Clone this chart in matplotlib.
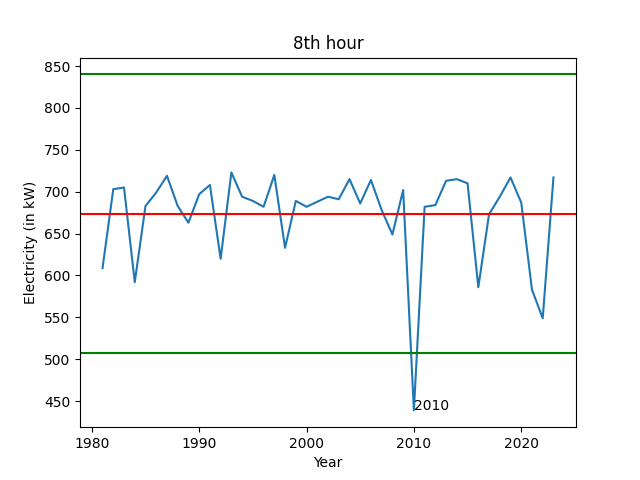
import matplotlib
matplotlib.use("Agg")
import matplotlib.pyplot as plt

years = list(range(1981, 2024))
values = [609, 703, 705, 592, 683, 699, 719, 683, 663, 697, 708, 620, 723, 694,
          689, 682, 720, 633, 689, 682, 688, 694, 691, 715, 686, 714, 678, 649,
          702, 439, 682, 684, 713, 715, 710, 586, 673, 694, 717, 687, 583, 549, 717]
mean_val = 673
upper = 840
lower = 507

fig, ax = plt.subplots(figsize=(6.4, 4.8), dpi=100)
ax.plot(years, values)
ax.axhline(mean_val, color="red")
ax.axhline(upper, color="green")
ax.axhline(lower, color="green")
ax.annotate("2010", (2010, values[years.index(2010)]), fontsize=10)
ax.set_title("8th hour")
ax.set_xlabel("Year")
ax.set_ylabel("Electricity (in kW)")
fig.savefig("out.png")
